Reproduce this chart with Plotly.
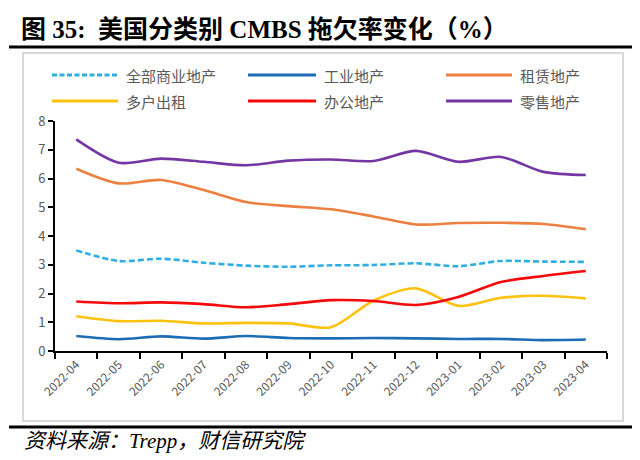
import plotly.graph_objects as go

months = ["2022-04", "2022-05", "2022-06", "2022-07", "2022-08", "2022-09", "2022-10",
          "2022-11", "2022-12", "2023-01", "2023-02", "2023-03", "2023-04"]

all_cre = [3.50, 3.13, 3.21, 3.07, 2.97, 2.93, 2.98, 2.99, 3.05, 2.95, 3.13, 3.11, 3.10]
industrial = [0.52, 0.41, 0.51, 0.43, 0.52, 0.45, 0.44, 0.45, 0.44, 0.42, 0.42, 0.38, 0.40]
lodging = [6.34, 5.83, 5.95, 5.60, 5.18, 5.04, 4.93, 4.68, 4.40, 4.45, 4.46, 4.42, 4.24]
multifamily = [1.21, 1.04, 1.05, 0.96, 0.98, 0.96, 0.83, 1.75, 2.18, 1.57, 1.85, 1.92, 1.83]
office = [1.72, 1.66, 1.69, 1.63, 1.52, 1.63, 1.77, 1.74, 1.60, 1.88, 2.40, 2.61, 2.78]
retail = [7.36, 6.55, 6.69, 6.58, 6.46, 6.62, 6.66, 6.61, 6.96, 6.58, 6.75, 6.23, 6.12]

series = [
    ("全部商业地产", all_cre, "#2FAEE3", "6px,3px"),
    ("工业地产", industrial, "#1C6DB5", "solid"),
    ("租赁地产", lodging, "#EC8041", "solid"),
    ("多户出租", multifamily, "#FFC20E", "solid"),
    ("办公地产", office, "#F50A0A", "solid"),
    ("零售地产", retail, "#7436A2", "solid"),
]

# page offset caused by default body margin
OFF = 8
W, H = 640 - OFF, 460 - OFF
ML = 55 - OFF
MT = 121 - OFF
MR = W - (607 - OFF)
MB = H - (351 - OFF)
PW, PH = W - ML - MR, H - MT - MB


def px(x):
    return (x - OFF - ML) / PW


def py(y):
    return (H - MB - (y - OFF)) / PH


fig = go.Figure()
for name, vals, color, dash in series:
    fig.add_trace(go.Scatter(
        x=months, y=vals, name=name, mode="lines",
        line=dict(color=color, width=2.6, dash=dash, shape="spline", smoothing=0.8),
        showlegend=False,
    ))

shapes = []
annotations = []

# outer frame box and rules
shapes.append(dict(type="rect", xref="paper", yref="paper", x0=px(23), x1=px(623), y0=py(53), y1=py(421),
                   line=dict(color="#D9D9D9", width=2), layer="below"))
shapes.append(dict(type="line", xref="paper", yref="paper", x0=px(9), x1=px(636), y0=py(47), y1=py(47),
                   line=dict(color="black", width=3)))
shapes.append(dict(type="line", xref="paper", yref="paper", x0=px(9), x1=px(636), y0=py(427), y1=py(427),
                   line=dict(color="black", width=3)))

# manual legend
cols = [(52, 118, 124), (248, 316, 322), (446, 512, 518)]
rows = [75, 101]
for i, (name, vals, color, dash) in enumerate(series):
    r, c = divmod(i, 3)
    x0, x1, xt = cols[c]
    y = rows[r]
    shapes.append(dict(type="line", xref="paper", yref="paper", x0=px(x0), x1=px(x1), y0=py(y), y1=py(y),
                       line=dict(color=color, width=3, dash=("5px,2.5px" if dash != "solid" else "solid"))))
    annotations.append(dict(xref="paper", yref="paper", x=px(xt), y=py(y), text=name, showarrow=False,
                            xanchor="left", yanchor="middle",
                            font=dict(family="Noto Sans CJK SC", size=15, color="#595959")))

annotations.append(dict(xref="paper", yref="paper", x=px(19), y=py(29),
                        text="<b>图 35:  美国分类别 CMBS 拖欠率变化（%）</b>", showarrow=False,
                        xanchor="left", yanchor="middle",
                        font=dict(family="Liberation Serif, Noto Sans CJK SC", size=25, color="black")))
annotations.append(dict(xref="paper", yref="paper", x=px(22), y=py(441),
                        text="<i>资料来源：Trepp，财信研究院</i>", showarrow=False,
                        xanchor="left", yanchor="middle",
                        font=dict(family="Liberation Serif, Noto Sans CJK SC", size=21, color="black")))

fig.update_layout(
    width=W, height=H,
    margin=dict(l=ML, r=MR, t=MT, b=MB),
    paper_bgcolor="white", plot_bgcolor="white",
    shapes=shapes, annotations=annotations,
    showlegend=False,
    xaxis=dict(type="category", range=[-0.5, 12.5], tickson="boundaries", ticks="outside", ticklen=6,
               tickwidth=2, tickcolor="black", showline=True, linecolor="black", linewidth=2,
               tickangle=-45, showgrid=False, zeroline=False,
               tickfont=dict(family="Noto Sans CJK SC", size=12, color="#595959")),
    yaxis=dict(range=[0, 8], dtick=1, ticks="outside", ticklen=5, tickwidth=2, tickcolor="black",
               showline=True, linecolor="black", linewidth=2, showgrid=False, zeroline=False,
               tickfont=dict(family="Noto Sans CJK SC", size=13, color="#595959")),
)

fig.write_html("out.html")
